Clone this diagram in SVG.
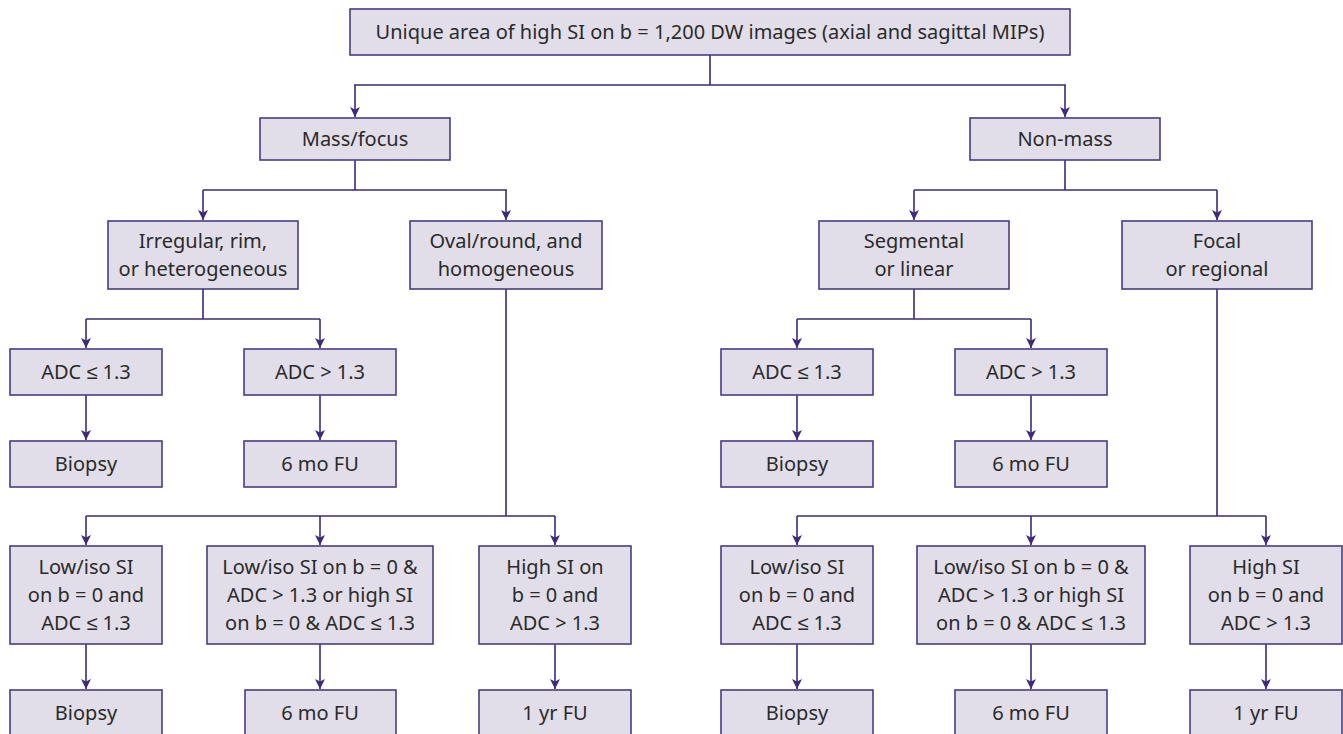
<svg xmlns="http://www.w3.org/2000/svg" width="1343" height="734" viewBox="0 0 1343 734">
<style>
.b{fill:#e1dee9;stroke:#4a3b85;stroke-width:1.6}
.t{font-family:"Noto Sans","Liberation Sans",sans-serif;font-size:20px;fill:#2a2a2a;text-anchor:middle}
.c{fill:none;stroke:#3d2a78;stroke-width:1.6}
</style>
<defs>
<marker id="a" viewBox="0 0 10 10" refX="10" refY="5" markerWidth="10" markerHeight="10" markerUnits="userSpaceOnUse" orient="auto">
<path d="M0,0 L10,5 L0,10 L2.5,5 z" fill="#3d2a78"/>
</marker>
</defs>
<rect width="1343" height="734" fill="#fff"/>
<g id="connectors">
<path class="c" d="M710,55 V85 M354,85 H1066"/>
<path class="c" d="M355,85 V117" marker-end="url(#a)"/>
<path class="c" d="M1065,85 V117" marker-end="url(#a)"/>
<path class="c" d="M355,160 V190 M203,190 H507"/>
<path class="c" d="M203,190 V220" marker-end="url(#a)"/>
<path class="c" d="M506,190 V220" marker-end="url(#a)"/>
<path class="c" d="M1065,160 V190 M914,190 H1217"/>
<path class="c" d="M914,190 V220" marker-end="url(#a)"/>
<path class="c" d="M1217,190 V220" marker-end="url(#a)"/>
<path class="c" d="M203,289 V319 M86,319 H320"/>
<path class="c" d="M86,319 V348" marker-end="url(#a)"/>
<path class="c" d="M320,319 V348" marker-end="url(#a)"/>
<path class="c" d="M914,289 V319 M797,319 H1031"/>
<path class="c" d="M797,319 V348" marker-end="url(#a)"/>
<path class="c" d="M1031,319 V348" marker-end="url(#a)"/>
<path class="c" d="M86,395 V440" marker-end="url(#a)"/>
<path class="c" d="M320,395 V440" marker-end="url(#a)"/>
<path class="c" d="M797,395 V440" marker-end="url(#a)"/>
<path class="c" d="M1031,395 V440" marker-end="url(#a)"/>
<path class="c" d="M506,289 V516 M86,516 H555"/>
<path class="c" d="M86,516 V545" marker-end="url(#a)"/>
<path class="c" d="M320,516 V545" marker-end="url(#a)"/>
<path class="c" d="M555,516 V545" marker-end="url(#a)"/>
<path class="c" d="M1217,289 V516 M797,516 H1266"/>
<path class="c" d="M797,516 V545" marker-end="url(#a)"/>
<path class="c" d="M1031,516 V545" marker-end="url(#a)"/>
<path class="c" d="M1266,516 V545" marker-end="url(#a)"/>
<path class="c" d="M86,644 V689" marker-end="url(#a)"/>
<path class="c" d="M320,644 V689" marker-end="url(#a)"/>
<path class="c" d="M555,644 V689" marker-end="url(#a)"/>
<path class="c" d="M797,644 V689" marker-end="url(#a)"/>
<path class="c" d="M1031,644 V689" marker-end="url(#a)"/>
<path class="c" d="M1266,644 V689" marker-end="url(#a)"/>
</g>
<g id="root"><rect class="b" x="350" y="9" width="720" height="46"/><text class="t" x="710" y="39">Unique area of high SI on b = 1,200 DW images (axial and sagittal MIPs)</text></g>
<g id="mass"><rect class="b" x="260" y="118" width="190" height="42"/><text class="t" x="355" y="146">Mass/focus</text></g>
<g id="nonmass"><rect class="b" x="970" y="118" width="190" height="42"/><text class="t" x="1065" y="146">Non-mass</text></g>
<g id="irregular"><rect class="b" x="108" y="221" width="190" height="68"/><text class="t" x="203" y="248">Irregular, rim,</text><text class="t" x="203" y="276">or heterogeneous</text></g>
<g id="oval"><rect class="b" x="410" y="221" width="192" height="68"/><text class="t" x="506" y="248">Oval/round, and</text><text class="t" x="506" y="276">homogeneous</text></g>
<g id="segmental"><rect class="b" x="819" y="221" width="190" height="68"/><text class="t" x="914" y="248">Segmental</text><text class="t" x="914" y="276">or linear</text></g>
<g id="focal"><rect class="b" x="1122" y="221" width="190" height="68"/><text class="t" x="1217" y="248">Focal</text><text class="t" x="1217" y="276">or regional</text></g>
<g id="adc-l1"><rect class="b" x="10" y="349" width="152" height="46"/><text class="t" x="86" y="379">ADC ≤ 1.3</text></g>
<g id="adc-l2"><rect class="b" x="244" y="349" width="152" height="46"/><text class="t" x="320" y="379">ADC &gt; 1.3</text></g>
<g id="adc-r1"><rect class="b" x="721" y="349" width="152" height="46"/><text class="t" x="797" y="379">ADC ≤ 1.3</text></g>
<g id="adc-r2"><rect class="b" x="955" y="349" width="152" height="46"/><text class="t" x="1031" y="379">ADC &gt; 1.3</text></g>
<g id="biopsy-l1"><rect class="b" x="10" y="441" width="152" height="46"/><text class="t" x="86" y="471">Biopsy</text></g>
<g id="fu-l1"><rect class="b" x="244" y="441" width="152" height="46"/><text class="t" x="320" y="471">6 mo FU</text></g>
<g id="biopsy-r1"><rect class="b" x="721" y="441" width="152" height="46"/><text class="t" x="797" y="471">Biopsy</text></g>
<g id="fu-r1"><rect class="b" x="955" y="441" width="152" height="46"/><text class="t" x="1031" y="471">6 mo FU</text></g>
<g id="low-l"><rect class="b" x="10" y="546" width="152" height="98"/><text class="t" x="86" y="574">Low/iso SI</text><text class="t" x="86" y="602">on b = 0 and</text><text class="t" x="86" y="630">ADC ≤ 1.3</text></g>
<g id="mid-l"><rect class="b" x="207" y="546" width="226" height="98"/><text class="t" x="320" y="574">Low/iso SI on b = 0 &amp;</text><text class="t" x="320" y="602">ADC &gt; 1.3 or high SI</text><text class="t" x="320" y="630">on b = 0 &amp; ADC ≤ 1.3</text></g>
<g id="high-l"><rect class="b" x="479" y="546" width="152" height="98"/><text class="t" x="555" y="574">High SI on</text><text class="t" x="555" y="602">b = 0 and</text><text class="t" x="555" y="630">ADC &gt; 1.3</text></g>
<g id="low-r"><rect class="b" x="721" y="546" width="152" height="98"/><text class="t" x="797" y="574">Low/iso SI</text><text class="t" x="797" y="602">on b = 0 and</text><text class="t" x="797" y="630">ADC ≤ 1.3</text></g>
<g id="mid-r"><rect class="b" x="917" y="546" width="228" height="98"/><text class="t" x="1031" y="574">Low/iso SI on b = 0 &amp;</text><text class="t" x="1031" y="602">ADC &gt; 1.3 or high SI</text><text class="t" x="1031" y="630">on b = 0 &amp; ADC ≤ 1.3</text></g>
<g id="high-r"><rect class="b" x="1190" y="546" width="152" height="98"/><text class="t" x="1266" y="574">High SI</text><text class="t" x="1266" y="602">on b = 0 and</text><text class="t" x="1266" y="630">ADC &gt; 1.3</text></g>
<g id="biopsy-l2"><rect class="b" x="10" y="690" width="152" height="46"/><text class="t" x="86" y="720">Biopsy</text></g>
<g id="fu-l2"><rect class="b" x="245" y="690" width="151" height="46"/><text class="t" x="320" y="720">6 mo FU</text></g>
<g id="yr-l"><rect class="b" x="479" y="690" width="152" height="46"/><text class="t" x="555" y="720">1 yr FU</text></g>
<g id="biopsy-r2"><rect class="b" x="721" y="690" width="152" height="46"/><text class="t" x="797" y="720">Biopsy</text></g>
<g id="fu-r2"><rect class="b" x="955" y="690" width="152" height="46"/><text class="t" x="1031" y="720">6 mo FU</text></g>
<g id="yr-r"><rect class="b" x="1190" y="690" width="152" height="46"/><text class="t" x="1266" y="720">1 yr FU</text></g>
</svg>
